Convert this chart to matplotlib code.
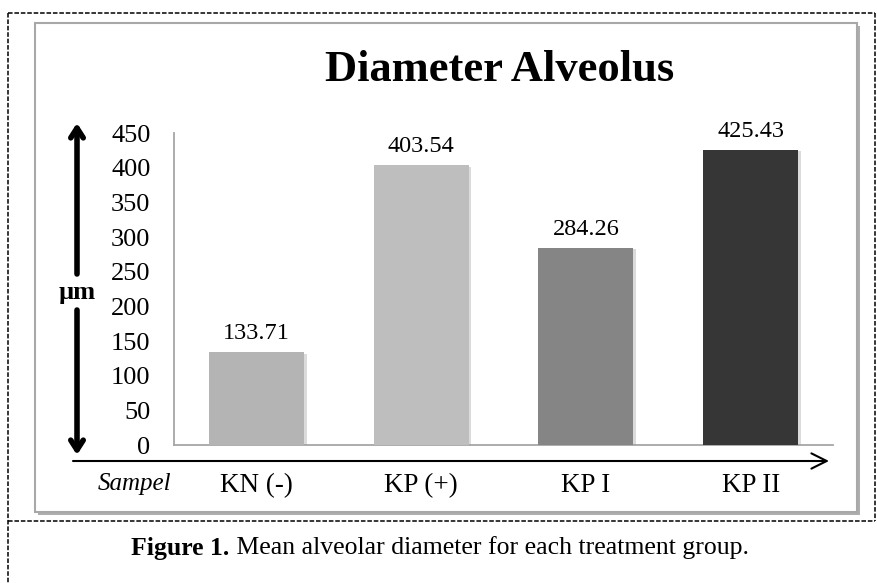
import matplotlib
matplotlib.use("Agg")
import matplotlib.pyplot as plt
import matplotlib.patheffects as pe
from matplotlib.patches import Rectangle

# data
groups = ["KN (-)", "KP (+)", "KP I", "KP II"]
diameter = [133.71, 403.54, 284.26, 425.43]
bar_colors = ["#b4b4b4", "#bebebe", "#858585", "#363636"]
y_ticks = [0, 50, 100, 150, 200, 250, 300, 350, 400, 450]

W, H = 877, 583
SERIF = "Liberation Serif"
plt.rcParams["font.family"] = SERIF

fig = plt.figure(figsize=(W / 100, H / 100), dpi=100)
fig.patch.set_facecolor("white")

# overlay axes in pixel coordinates for the frame, arrows and caption
bg = fig.add_axes([0, 0, 1, 1], zorder=0)
bg.set_xlim(0, W)
bg.set_ylim(H, 0)
bg.axis("off")

# dashed outer frame
dash = dict(color="black", lw=1.1, ls=(0, (3, 1.2)))
bg.plot([8, 875], [13, 13], **dash)
bg.plot([8, 8], [13, H], **dash)
bg.plot([875, 875], [13, 521], **dash)
bg.plot([8, 875], [521, 521], **dash)

# chart box with shadow
box = Rectangle((35, 23), 822, 489, facecolor="white", edgecolor="#a8a8a8", lw=1.5,
                path_effects=[pe.SimplePatchShadow(offset=(2.5, -2.5), shadow_rgbFace="#8c8c8c", alpha=0.7),
                              pe.Normal()])
bg.add_patch(box)

bg.text(500, 70, "Diameter Alveolus", fontsize=32, fontweight="bold", ha="center", va="center")

# vertical double arrow with the unit label
v_arrow = dict(arrowstyle="->,head_length=0.7,head_width=0.45", lw=4, color="black",
               shrinkA=0, shrinkB=0)
bg.annotate("", xy=(77, 123), xytext=(77, 274), arrowprops=v_arrow)
bg.annotate("", xy=(77, 455), xytext=(77, 310), arrowprops=v_arrow)
bg.text(77, 292, "\u00b5m", fontsize=19, fontweight="bold", ha="center", va="center")

# horizontal arrow under the axis
h_arrow = dict(arrowstyle="->,head_length=1.1,head_width=0.55", lw=1.5, color="black",
               shrinkA=0, shrinkB=0)
bg.annotate("", xy=(829, 461), xytext=(73, 461), arrowprops=h_arrow)
bg.text(135, 484, "Sampel", fontsize=18, fontstyle="italic", ha="center", va="center")

# bar chart
ax = fig.add_axes([174 / W, 1 - 445 / H, (833 - 174) / W, (445 - 133) / H], zorder=2)
ax.patch.set_visible(False)
x = list(range(len(groups)))
bars = ax.bar(x, diameter, width=0.576, color=bar_colors, zorder=3)
for b in bars:
    b.set_path_effects([pe.SimplePatchShadow(offset=(2, -1), shadow_rgbFace="#999999", alpha=0.35),
                        pe.Normal()])
for xi, v in zip(x, diameter):
    ax.annotate(f"{v:.2f}", xy=(xi, v), xytext=(0, 6), textcoords="offset points",
                ha="center", va="bottom", fontsize=17.5)

ax.set_xlim(-0.5, len(groups) - 0.5)
ax.set_ylim(0, 450)
ax.set_yticks(y_ticks)
ax.set_yticklabels([str(t) for t in y_ticks], fontsize=19)
ax.set_xticks(x)
ax.set_xticklabels(groups, fontsize=19.5)
ax.tick_params(axis="y", length=0, pad=17)
ax.tick_params(axis="x", length=0, pad=20)
for side in ["top", "right"]:
    ax.spines[side].set_visible(False)
for side in ["left", "bottom"]:
    ax.spines[side].set_color("#a6a6a6")
    ax.spines[side].set_linewidth(1.3)

# caption: bold lead-in followed by normal text, centred as one line
cap_y = 548
fig.canvas.draw()
r = fig.canvas.get_renderer()
t1 = bg.text(0, cap_y, "Figure 1.", fontsize=18.5, fontweight="bold", ha="left", va="center")
t2 = bg.text(0, cap_y, " Mean alveolar diameter for each treatment group.", fontsize=18.5,
             ha="left", va="center")
w1 = t1.get_window_extent(r).width
w2 = t2.get_window_extent(r).width
start = 440 - (w1 + w2) / 2
t1.set_x(start)
t2.set_x(start + w1)

fig.savefig("out.png", dpi=100)
